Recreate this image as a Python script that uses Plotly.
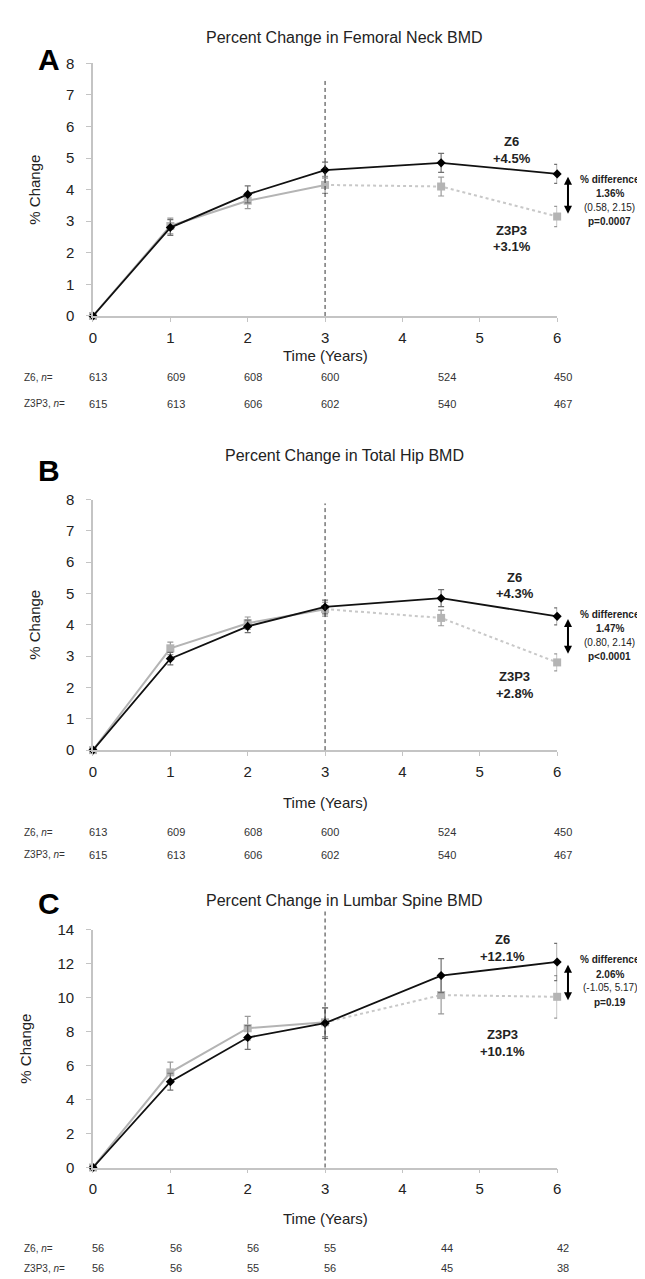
import plotly.graph_objects as go

# ---------------- data ----------------
years = [0, 1, 2, 3, 4.5, 6]
x_ticks = [0, 1, 2, 3, 4, 5, 6]

titles = ["Percent Change in Femoral Neck BMD",
          "Percent Change in Total Hip BMD",
          "Percent Change in Lumbar Spine BMD"]
letters = ["A", "B", "C"]

fn_z6 = [0, 2.8, 3.85, 4.62, 4.85, 4.5]
fn_z6_err = [0, 0.25, 0.27, 0.25, 0.3, 0.3]
fn_z3p3 = [0, 2.85, 3.65, 4.15, 4.1, 3.15]
fn_z3p3_err = [0, 0.25, 0.25, 0.27, 0.3, 0.32]

th_z6 = [0, 2.92, 3.95, 4.57, 4.85, 4.27]
th_z6_err = [0, 0.2, 0.2, 0.22, 0.27, 0.27]
th_z3p3 = [0, 3.25, 4.05, 4.5, 4.22, 2.8]
th_z3p3_err = [0, 0.2, 0.2, 0.22, 0.25, 0.27]

ls_z6 = [0, 5.05, 7.65, 8.5, 11.3, 12.1]
ls_z6_err = [0, 0.5, 0.7, 0.9, 1.0, 1.1]
ls_z3p3 = [0, 5.6, 8.2, 8.55, 10.15, 10.05]
ls_z3p3_err = [0, 0.6, 0.7, 0.85, 1.1, 1.25]

n_z6 = [[613, 609, 608, 600, 524, 450],
        [613, 609, 608, 600, 524, 450],
        [56, 56, 56, 55, 44, 42]]
n_z3p3 = [[615, 613, 606, 602, 540, 467],
          [615, 613, 606, 602, 540, 467],
          [56, 56, 55, 56, 45, 38]]

z6_labels = ["+4.5%", "+4.3%", "+12.1%"]
z3p3_labels = ["+3.1%", "+2.8%", "+10.1%"]
diff_pct = ["1.36%", "1.47%", "2.06%"]
diff_ci = ["(0.58, 2.15)", "(0.80, 2.14)", "(-1.05, 5.17)"]
diff_p = ["p=0.0007", "p<0.0001", "p=0.19"]

y_max = [8, 8, 14]
y_dtick = [1, 1, 2]

# ---------------- layout geometry (pixels) ----------------
W, H = 645, 1279
FONT = "Liberation Sans, Arial, sans-serif"
X_MAX = 6

def py(p):
    return 1 - p / H

panels = [
    dict(y0=303, ytop=47, title=21, letter=43, xt=343, n1=365, n2=392, dash_top=62,
         z6=(5.41, 5.52, 5.0), z3=(5.41, 2.71, 2.2), diff=(6.68, [4.33, 3.89, 3.44, 2.98]),
         arrow=(6.14, 4.44, 3.24)),
    dict(y0=743, ytop=489, title=444, letter=460, xt=796, n1=826, n2=849, dash_top=493,
         z6=(5.45, 5.51, 4.99), z3=(5.45, 2.34, 1.81), diff=(6.68, [4.34, 3.88, 3.44, 2.98]),
         arrow=(6.14, 4.22, 3.08)),
    dict(y0=1166, ytop=925, title=895, letter=898, xt=1218, n1=1248, n2=1268, dash_top=905,
         z6=(5.29, 13.42, 12.45), z3=(5.29, 7.84, 6.84), diff=(6.68, [12.26, 11.39, 10.57, 9.74]),
         arrow=(6.14, 12.0, 9.85)),
]

x_dom = [82 / W, 552 / W]

def xpaper(v):
    return x_dom[0] + v / X_MAX * (x_dom[1] - x_dom[0])

series = [
    (fn_z6, fn_z6_err, fn_z3p3, fn_z3p3_err),
    (th_z6, th_z6_err, th_z3p3, th_z3p3_err),
    (ls_z6, ls_z6_err, ls_z3p3, ls_z3p3_err),
]

fig = go.Figure()
annotations = []
shapes = []

GRAY = "#b4b4b4"
AXIS = "#c4c4c4"
TXT = "#222222"

split = years.index(3)

def txt(text, x, y, size, color=TXT, xanchor="center"):
    return dict(text=text, xref="paper", yref="paper", x=x, y=y, xanchor=xanchor,
                yanchor="middle", showarrow=False,
                font=dict(size=size, color=color, family=FONT))

for i, (z6, z6e, z3, z3e) in enumerate(series):
    k = "" if i == 0 else str(i + 1)
    xa, ya = "x" + k, "y" + k
    P = panels[i]
    yd = [py(P["y0"]), py(P["ytop"])]

    def ypaper(v, yd=yd, ym=y_max[i]):
        return yd[0] + v / ym * (yd[1] - yd[0])

    px_per_unit = (P["y0"] - P["ytop"]) / y_max[i]

    fig.add_trace(go.Scatter(x=years[:split + 1], y=z3[:split + 1], xaxis=xa, yaxis=ya,
                             mode="lines", line=dict(color=GRAY, width=2), showlegend=False,
                             hoverinfo="skip"))
    fig.add_trace(go.Scatter(x=years[split:], y=z3[split:], xaxis=xa, yaxis=ya,
                             mode="lines", line=dict(color="#c8c8c8", width=2, dash="dot"),
                             showlegend=False, hoverinfo="skip"))
    fig.add_trace(go.Scatter(x=years, y=z3, xaxis=xa, yaxis=ya, mode="markers",
                             marker=dict(symbol="square", size=8, color=GRAY),
                             error_y=dict(type="data", array=z3e, color="#9a9a9a",
                                          thickness=1.2, width=3),
                             cliponaxis=False, showlegend=False, name="Z3P3"))
    fig.add_trace(go.Scatter(x=years, y=z6, xaxis=xa, yaxis=ya, mode="lines+markers",
                             line=dict(color="#111111", width=1.8),
                             marker=dict(symbol="diamond", size=7, color="#000000"),
                             error_y=dict(type="data", array=z6e, color="#707070",
                                          thickness=1.2, width=3),
                             cliponaxis=False, showlegend=False, name="Z6"))

    fig.layout["xaxis" + k] = dict(
        domain=x_dom, anchor=ya, range=[0, X_MAX], tickvals=x_ticks,
        showline=True, linecolor=AXIS, linewidth=1.5, ticks="outside", ticklen=4,
        tickcolor=AXIS, showgrid=False, zeroline=False,
        tickfont=dict(size=15, color=TXT, family=FONT), ticklabelstandoff=3)
    fig.layout["yaxis" + k] = dict(
        domain=yd, anchor=xa, range=[0, y_max[i]], dtick=y_dtick[i],
        showline=True, linecolor=AXIS, linewidth=1.5, ticks="outside", ticklen=5,
        tickcolor=AXIS, showgrid=False, zeroline=False,
        tickfont=dict(size=15, color=TXT, family=FONT), ticklabelstandoff=9,
        title=dict(text="% Change", font=dict(size=15, color=TXT, family=FONT), standoff=22))

    shapes.append(dict(type="line", xref=xa, yref="paper", x0=3, x1=3,
                       y0=py(P["y0"]), y1=py(P["dash_top"]),
                       line=dict(color="#333333", width=1, dash="4px,3px")))

    annotations.append(txt(titles[i], 337 / W, py(P["title"]), 16))
    annotations.append(txt("<b>" + letters[i] + "</b>", 37 / W, py(P["letter"]), 30, "#000"))
    annotations.append(txt("Time (Years)", (x_dom[0] + x_dom[1]) / 2, py(P["xt"]), 15))
    for lab, vals, rowpx in (("Z6, <i>n</i>=", n_z6[i], P["n1"]),
                             ("Z3P3, <i>n</i>=", n_z3p3[i], P["n2"])):
        annotations.append(txt(lab, 10 / W, py(rowpx), 10, "#333", xanchor="left"))
        for xv, nv in zip(years, vals):
            annotations.append(txt(str(nv), xpaper(xv + 0.07), py(rowpx), 11, "#333"))
    zx, zy1, zy2 = P["z6"]
    annotations.append(txt("<b>Z6</b>", xpaper(zx), ypaper(zy1), 13))
    annotations.append(txt("<b>" + z6_labels[i] + "</b>", xpaper(zx), ypaper(zy2), 13))
    zx, zy1, zy2 = P["z3"]
    annotations.append(txt("<b>Z3P3</b>", xpaper(zx), ypaper(zy1), 13))
    annotations.append(txt("<b>" + z3p3_labels[i] + "</b>", xpaper(zx), ypaper(zy2), 13))
    dx, dys = P["diff"]
    dtexts = ["<b>% difference</b>", "<b>" + diff_pct[i] + "</b>", diff_ci[i],
              "<b>" + diff_p[i] + "</b>"]
    for t, yv in zip(dtexts, dys):
        annotations.append(txt(t, xpaper(dx), ypaper(yv), 10))
    ax_, ay1, ay2 = P["arrow"]
    annotations.append(dict(text="", xref="paper", yref="paper", x=xpaper(ax_),
                            y=ypaper(ay2), ax=0, ay=-(ay1 - ay2) * px_per_unit,
                            axref="pixel", ayref="pixel", showarrow=True, arrowhead=2,
                            arrowside="end+start", arrowsize=0.8, arrowwidth=2,
                            arrowcolor="#000", standoff=0, startstandoff=0))

fig.update_layout(width=W, height=H, margin=dict(l=0, r=0, t=0, b=0),
                  paper_bgcolor="white", plot_bgcolor="white",
                  annotations=annotations, shapes=shapes, showlegend=False,
                  font=dict(family=FONT))

fig.write_html("out.html")
